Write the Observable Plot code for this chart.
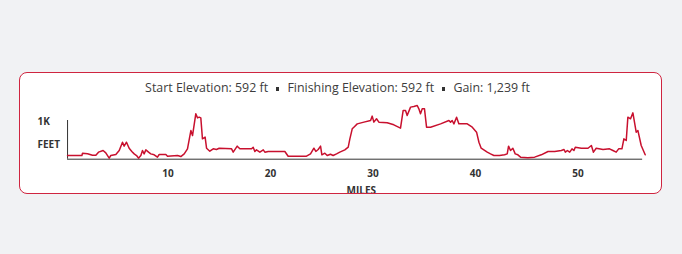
<!DOCTYPE html>
<html>
<head>
<meta charset="utf-8">
<script src="https://cdn.jsdelivr.net/npm/d3@7"></script>
<script src="https://cdn.jsdelivr.net/npm/@observablehq/plot@0.6"></script>
<style>
  html, body { margin: 0; padding: 0; }
  body { width: 682px; height: 254px; background: #f1f2f4; position: relative; overflow: hidden; font-family: "Open Sans", sans-serif; }
  #card { position: absolute; left: 19px; top: 72px; width: 643px; height: 122px; box-sizing: border-box;
          border: 1.5px solid #cf2540; border-radius: 8px; background: #fff; overflow: hidden; }
  #title { position: absolute; left: -6px; right: 0; top: 6.2px; text-align: center; font-size: 12.4px; line-height: 18px; color: #3c3c3c; white-space: nowrap; }
  #title .sq { display: inline-block; width: 3.4px; height: 3.4px; background: #333; vertical-align: middle; margin: 0 8px; }
  #chart { position: absolute; left: -20.5px; top: 26.5px; width: 682px; height: 100px; }
  #chart svg { max-width: none !important; }
</style>
</head>
<body>
<div id="card">
  <div id="title"></div>
  <div id="chart"></div>
</div>
<script>
// Summary statistics
const statLabels = ["Start Elevation:", "Finishing Elevation:", "Gain:"];
const statValues = ["592 ft", "592 ft", "1,239 ft"];

// Elevation profile (miles, feet)
const miles = [0.2, 1.6, 1.66, 2.15, 2.63, 2.96, 3.22, 3.67, 3.93, 4.26, 4.42, 4.91, 5.24, 5.56, 5.72, 5.95, 6.21, 6.47, 6.7, 6.93,
  7.12, 7.35, 7.51, 7.67, 7.84, 8.1, 8.32, 8.65, 8.97, 9.14, 9.79, 9.95, 10.93, 11.25, 11.58, 11.9, 12.23, 12.39, 12.71, 12.88,
  13.04, 13.2, 13.36, 13.62, 13.76, 14.08, 14.41, 14.73, 14.99, 16.2, 16.36, 16.75, 17.01, 18.15, 18.31, 18.47, 18.63, 18.96, 19.29, 19.45,
  19.77, 21.4, 21.72, 23.51, 23.9, 24.23, 24.42, 24.65, 24.88, 25.01, 25.3, 25.53, 25.85, 26.11, 26.44, 26.76, 27.25, 27.58, 27.74, 27.97,
  28.13, 28.46, 29.11, 29.76, 29.92, 30.08, 30.34, 30.57, 31.38, 32.03, 32.68, 32.94, 33.17, 33.33, 33.66, 33.98, 34.31, 34.47, 34.63, 34.8,
  35.02, 35.22, 35.61, 36.59, 37.4, 37.56, 37.72, 37.89, 38.15, 38.37, 39.19, 39.68, 40.1, 40.33, 40.55, 41.14, 41.46, 41.79, 42.34, 42.83,
  43.09, 43.22, 43.41, 43.64, 43.87, 44.13, 44.39, 45.11, 45.76, 46.41, 47.07, 47.72, 48.37, 48.63, 48.76, 48.96, 49.19, 49.41, 49.6, 49.73,
  50.32, 50.97, 51.3, 51.5, 51.77, 52.44, 53.07, 53.4, 53.72, 53.96, 54.28, 54.47, 54.7, 54.86, 55.12, 55.35, 55.67, 55.84, 56.16, 56.55];
const feet = [592, 592, 619, 612, 595, 595, 631, 650, 623, 561, 592, 604, 650, 747, 701, 747, 677, 639, 611, 592,
  561, 592, 650, 611, 658, 631, 611, 600, 573, 604, 604, 584, 592, 580, 611, 670, 883, 825, 1078, 1031,
  1039, 1031, 786, 806, 677, 642, 670, 662, 677, 670, 631, 701, 670, 670, 689, 639, 658, 631, 658, 631,
  639, 639, 584, 584, 611, 677, 639, 662, 701, 600, 619, 592, 607, 592, 611, 631, 658, 689, 786, 903,
  922, 961, 981, 1000, 1051, 981, 1020, 981, 973, 950, 911, 1117, 1117, 1058, 1156, 1163, 1175, 1136, 1078, 1136,
  1136, 922, 922, 961, 1000, 981, 1000, 961, 1039, 961, 961, 922, 864, 747, 677, 631, 611, 592, 592, 600,
  611, 701, 650, 677, 611, 600, 573, 565, 573, 600, 639, 639, 650, 662, 631, 650, 631, 670, 650, 689,
  677, 677, 709, 631, 677, 662, 670, 650, 631, 670, 670, 786, 767, 1039, 1020, 1089, 864, 883, 709, 600];

// Axis ticks
const xTicks = [10, 20, 30, 40, 50];
const yTicks = [1000];
const yTickLabels = ["1K"];
const yUnit = "FEET";
const xUnit = "MILES";
const yMin = 549, yMax = 1175;

// Title
const title = document.getElementById("title");
title.innerHTML = statLabels.map((l, i) => `${l} ${statValues[i]}`).join('<span class="sq"></span>');

const data = miles.map((m, i) => ({mile: m, ft: feet[i]}));

const chart = Plot.plot({
  width: 682,
  height: 100,
  marginLeft: 65,
  marginRight: 37.3,
  marginTop: 5,
  marginBottom: 41.3,
  style: {fontFamily: "Open Sans", fontSize: "10px", fontWeight: "bold", color: "#333", background: "transparent", overflow: "visible", maxWidth: "none"},
  x: {domain: [0, miles[miles.length - 1]], label: null},
  y: {domain: [yMin, yMax], label: null},
  marks: [
    Plot.axisX({ticks: xTicks, tickSize: 0, tickPadding: 11, label: null, fill: "#333"}),
    Plot.axisY({ticks: yTicks, tickFormat: (d, i) => yTickLabels[i], tickSize: 0, tickPadding: 28, textAnchor: "start", label: null, fill: "#333", dy: 1.5}),
    Plot.text([yUnit], {frameAnchor: "left", dx: -28, dy: 12, textAnchor: "start", fill: "#333"}),
    Plot.text([xUnit], {frameAnchor: "bottom", dx: 6, dy: 34.5, fill: "#333"}),
    Plot.ruleY([yMin], {x1: miles[0], x2: miles[miles.length - 1] - 0.25, stroke: "#333", strokeWidth: 1}),
    Plot.ruleX([miles[0]], {y1: yMin, y2: yTicks[0], stroke: "#333", strokeWidth: 1}),
    Plot.line(data, {x: "mile", y: "ft", stroke: "#c8102e", strokeWidth: 1.5})
  ]
});
document.getElementById("chart").appendChild(chart);
</script>
</body>
</html>
